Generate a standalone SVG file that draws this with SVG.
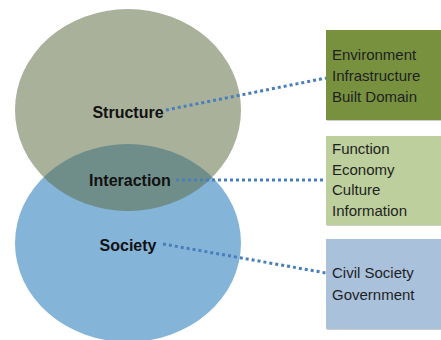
<svg xmlns="http://www.w3.org/2000/svg" width="441" height="340" viewBox="0 0 441 340">
<style>
.lbl{font-family:"Liberation Sans",Arial,sans-serif;font-weight:bold;font-size:16px;fill:#111;text-anchor:middle}
.bt{font-family:"Liberation Sans",Arial,sans-serif;font-size:15px;fill:#1f1f1f}
.conn{stroke:#4a7ebb;stroke-width:3;stroke-dasharray:3 3;fill:none}
.shadow{fill:#9a9a9a;opacity:0.5}
</style>
<rect width="441" height="340" fill="#ffffff"/>
<g id="society">
<ellipse cx="128" cy="243" rx="113" ry="99" fill="#84b4d8"/>
</g>
<g id="structure">
<ellipse cx="128" cy="110" rx="113" ry="101" fill="#5c6b42" fill-opacity="0.53"/>
</g>
<g id="labels">
<text class="lbl" x="128" y="118">Structure</text>
<text class="lbl" x="130" y="186">Interaction</text>
<text class="lbl" x="128" y="251">Society</text>
</g>
<g id="connectors">
<line class="conn" x1="166" y1="110" x2="326" y2="78"/>
<line class="conn" x1="176" y1="180" x2="326" y2="180"/>
<line class="conn" x1="163" y1="244" x2="326" y2="273"/>
</g>
<g id="box-structure">
<rect class="shadow" x="327" y="31" width="115" height="90"/>
<rect x="326" y="30" width="115" height="90" fill="#77913f"/>
<text class="bt" x="332" y="60">Environment</text>
<text class="bt" x="332" y="81">Infrastructure</text>
<text class="bt" x="332" y="102">Built Domain</text>
</g>
<g id="box-interaction">
<rect class="shadow" x="327" y="137" width="115" height="89"/>
<rect x="326" y="136" width="115" height="89" fill="#bccf9c"/>
<text class="bt" x="332" y="154">Function</text>
<text class="bt" x="332" y="175">Economy</text>
<text class="bt" x="332" y="195">Culture</text>
<text class="bt" x="332" y="216">Information</text>
</g>
<g id="box-society">
<rect class="shadow" x="327" y="240" width="115" height="90"/>
<rect x="326" y="239" width="115" height="90" fill="#aac1dc"/>
<text class="bt" x="332" y="278">Civil Society</text>
<text class="bt" x="332" y="300">Government</text>
</g>
</svg>
